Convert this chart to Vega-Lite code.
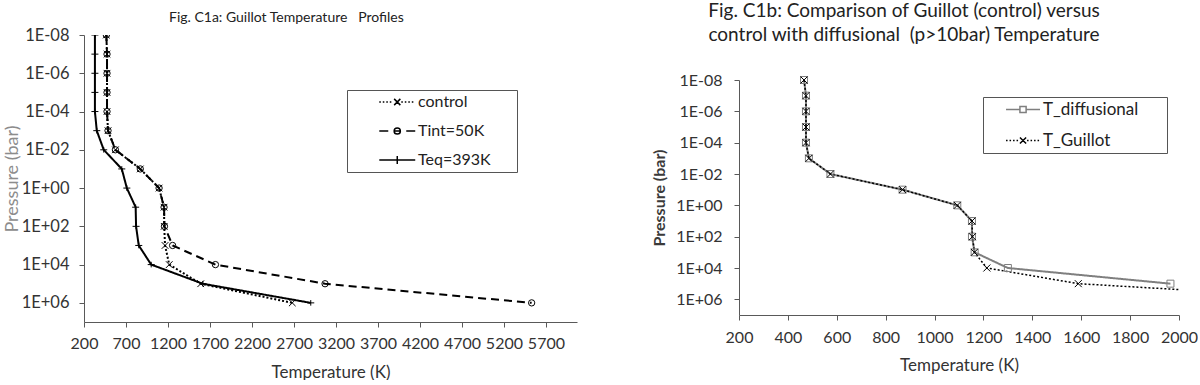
{
  "$schema": "https://vega.github.io/schema/vega-lite/v6.json",
  "background": "white",
  "padding": {"left": 3, "top": 2, "right": 0, "bottom": 0},
  "spacing": 74,
  "resolve": {
    "scale": {"x": "independent", "y": "independent", "color": "independent", "shape": "independent", "strokeDash": "independent", "strokeWidth": "independent", "size": "independent"},
    "legend": {"shape": "independent", "color": "independent"}
  },
  "config": {
    "font": "Lato",
    "view": {"stroke": null},
    "axis": {
      "grid": false,
      "domainColor": "#595959",
      "tickColor": "#595959",
      "tickSize": 5,
      "labelColor": "#333333",
      "labelFont": "Lato",
      "labelFontSize": 16,
      "labelOverlap": false,
      "labelFlush": false,
      "titleFont": "Lato",
      "titleFontSize": 17,
      "titleFontWeight": "normal",
      "titleColor": "#333333"
    }
  },
  "datasets": {
    "c1a": [
      {"series": "control", "P": 1e-8, "T": 466},
      {"series": "control", "P": 1e-7, "T": 474},
      {"series": "control", "P": 1e-6, "T": 474},
      {"series": "control", "P": 1e-5, "T": 474},
      {"series": "control", "P": 1e-4, "T": 474},
      {"series": "control", "P": 1e-3, "T": 486},
      {"series": "control", "P": 1e-2, "T": 574},
      {"series": "control", "P": 1e-1, "T": 870},
      {"series": "control", "P": 1, "T": 1094},
      {"series": "control", "P": 10, "T": 1153},
      {"series": "control", "P": 100, "T": 1155},
      {"series": "control", "P": 1000, "T": 1165},
      {"series": "control", "P": 10000, "T": 1215},
      {"series": "control", "P": 100000, "T": 1590},
      {"series": "control", "P": 1000000, "T": 2680},
      {"series": "Tint=50K", "P": 1e-8, "T": 466},
      {"series": "Tint=50K", "P": 1e-7, "T": 474},
      {"series": "Tint=50K", "P": 1e-6, "T": 474},
      {"series": "Tint=50K", "P": 1e-5, "T": 474},
      {"series": "Tint=50K", "P": 1e-4, "T": 474},
      {"series": "Tint=50K", "P": 1e-3, "T": 486},
      {"series": "Tint=50K", "P": 1e-2, "T": 574},
      {"series": "Tint=50K", "P": 1e-1, "T": 870},
      {"series": "Tint=50K", "P": 1, "T": 1094},
      {"series": "Tint=50K", "P": 10, "T": 1153},
      {"series": "Tint=50K", "P": 100, "T": 1158},
      {"series": "Tint=50K", "P": 1000, "T": 1255},
      {"series": "Tint=50K", "P": 10000, "T": 1765},
      {"series": "Tint=50K", "P": 100000, "T": 3070},
      {"series": "Tint=50K", "P": 1000000, "T": 5530},
      {"series": "Teq=393K", "P": 1e-8, "T": 330},
      {"series": "Teq=393K", "P": 1e-7, "T": 330},
      {"series": "Teq=393K", "P": 1e-6, "T": 330},
      {"series": "Teq=393K", "P": 1e-5, "T": 330},
      {"series": "Teq=393K", "P": 1e-4, "T": 330},
      {"series": "Teq=393K", "P": 1e-3, "T": 352},
      {"series": "Teq=393K", "P": 1e-2, "T": 435},
      {"series": "Teq=393K", "P": 1e-1, "T": 650},
      {"series": "Teq=393K", "P": 1, "T": 710},
      {"series": "Teq=393K", "P": 10, "T": 815},
      {"series": "Teq=393K", "P": 100, "T": 820},
      {"series": "Teq=393K", "P": 1000, "T": 852},
      {"series": "Teq=393K", "P": 10000, "T": 1000},
      {"series": "Teq=393K", "P": 100000, "T": 1615},
      {"series": "Teq=393K", "P": 1000000, "T": 2900}
    ],
    "c1b": [
      {"series": "T_diffusional", "P": 1e-8, "T": 466},
      {"series": "T_diffusional", "P": 1e-7, "T": 474},
      {"series": "T_diffusional", "P": 1e-6, "T": 474},
      {"series": "T_diffusional", "P": 1e-5, "T": 474},
      {"series": "T_diffusional", "P": 1e-4, "T": 474},
      {"series": "T_diffusional", "P": 1e-3, "T": 486},
      {"series": "T_diffusional", "P": 1e-2, "T": 574},
      {"series": "T_diffusional", "P": 1e-1, "T": 869},
      {"series": "T_diffusional", "P": 1, "T": 1093},
      {"series": "T_diffusional", "P": 10, "T": 1153},
      {"series": "T_diffusional", "P": 100, "T": 1153},
      {"series": "T_diffusional", "P": 1000, "T": 1164},
      {"series": "T_diffusional", "P": 10000, "T": 1300},
      {"series": "T_diffusional", "P": 100000, "T": 1965},
      {"series": "T_Guillot", "P": 1e-8, "T": 466},
      {"series": "T_Guillot", "P": 1e-7, "T": 474},
      {"series": "T_Guillot", "P": 1e-6, "T": 474},
      {"series": "T_Guillot", "P": 1e-5, "T": 474},
      {"series": "T_Guillot", "P": 1e-4, "T": 474},
      {"series": "T_Guillot", "P": 1e-3, "T": 486},
      {"series": "T_Guillot", "P": 1e-2, "T": 574},
      {"series": "T_Guillot", "P": 1e-1, "T": 869},
      {"series": "T_Guillot", "P": 1, "T": 1093},
      {"series": "T_Guillot", "P": 10, "T": 1153},
      {"series": "T_Guillot", "P": 100, "T": 1155},
      {"series": "T_Guillot", "P": 1000, "T": 1163},
      {"series": "T_Guillot", "P": 10000, "T": 1214},
      {"series": "T_Guillot", "P": 100000, "T": 1588},
      {"series": "T_Guillot", "P": 1000000, "T": 2680}
    ]
  },
  "hconcat": [
    {
      "width": 493,
      "height": 287,
      "title": {
        "text": "Fig. C1a: Guillot Temperature\u00a0\u00a0 Profiles",
        "fontSize": 14,
        "fontWeight": "normal",
        "font": "Lato",
        "color": "#222222",
        "anchor": "start",
        "frame": "group",
        "dx": 85,
        "dy": 9,
        "offset": 11
      },
      "data": {"name": "c1a"},
      "resolve": {"scale": {"shape": "independent", "size": "independent"}},
      "layer": [
        {
          "mark": {"type": "line", "clip": true, "color": "black"},
          "encoding": {
            "x": {"field": "T", "type": "quantitative", "scale": {"domain": [200, 6070], "nice": false, "zero": false},
                  "axis": {"values": [200, 700, 1200, 1700, 2200, 2700, 3200, 3700, 4200, 4700, 5200, 5700], "title": "Temperature (K)", "labelPadding": 8, "titlePadding": 13, "format": "d"}},
            "y": {"field": "P", "type": "quantitative", "scale": {"type": "log", "domain": [1e-8, 1e7], "reverse": true, "nice": false},
                  "axis": {"values": [1e-8, 1e-6, 1e-4, 1e-2, 1, 100, 10000, 1000000], "title": "Pressure (bar)", "titleColor": "#8c8c8c", "titleFontSize": 18, "labelFontSize": 16.5, "labelPadding": 10, "titlePadding": 0,
                           "labelExpr": "'1E' + (round(log(datum.value)/LN10) < 0 ? '-' : '+') + (abs(round(log(datum.value)/LN10)) < 10 ? '0' : '') + abs(round(log(datum.value)/LN10))"}},
            "order": {"field": "P", "type": "quantitative"},
            "strokeDash": {"field": "series", "type": "nominal", "scale": {"domain": ["Teq=393K", "control", "Tint=50K"], "range": [[1, 0], [2, 2], [8, 5]]}, "legend": null},
            "strokeWidth": {"field": "series", "type": "nominal", "scale": {"domain": ["Teq=393K", "Tint=50K", "control"], "range": [2, 2, 1.5]}, "legend": null}
          }
        },
        {
          "mark": {"type": "point", "clip": true, "filled": false, "color": "black", "strokeWidth": 1, "opacity": 1},
          "encoding": {
            "x": {"field": "T", "type": "quantitative"},
            "y": {"field": "P", "type": "quantitative"},
            "size": {"field": "series", "type": "nominal", "scale": {"domain": ["Tint=50K", "control", "Teq=393K"], "range": [40, 49, 81]}, "legend": null},
            "shape": {"field": "series", "type": "nominal", "scale": {"domain": ["Tint=50K", "Teq=393K", "control"], "range": ["circle", "M-1,0H1M0,-0.8V0.8", "M-1,-1L1,1M-1,1L1,-1"]}, "legend": null}
          }
        },
        {
          "mark": {"type": "point", "clip": true, "filled": false, "color": "black", "strokeWidth": 1.5, "opacity": 0, "size": 3844},
          "encoding": {
            "x": {"field": "T", "type": "quantitative"},
            "y": {"field": "P", "type": "quantitative"},
            "shape": {
              "field": "series", "type": "nominal",
              "scale": {"domain": ["control", "Tint=50K", "Teq=393K"], "range": [
                "M-0.12,0h0.05M-0.007,0h0.05M0.106,0h0.05M0.219,0h0.05M0.59,0h0.05M0.703,0h0.05M0.816,0h0.05M0.929,0h0.05M0.36,-0.1L0.56,0.1M0.36,0.1L0.56,-0.1",
                "M-0.12,0H0.17M0.36,0H0.56M0.56,0A0.1,0.1 0 1,1 0.36,0A0.1,0.1 0 1,1 0.56,0M0.75,0H1.04",
                "M-0.12,0H1.04M0.46,-0.13V0.13"]},
              "legend": {
                "title": "\u00a0",
                "titleOrient": "right",
                "titlePadding": 22,
                "orient": "none",
                "legendX": 263,
                "legendY": 55,
                "strokeColor": "#555555",
                "fillColor": "white",
                "padding": 4,
                "rowPadding": 13,
                "clipHeight": 16,
                "symbolSize": 3844,
                "symbolStrokeWidth": 1.5,
                "symbolOpacity": 1,
                "symbolStrokeColor": "black",
                "symbolFillColor": "transparent",
                "labelFont": "Lato",
                "labelFontSize": 16,
                "labelColor": "#222222",
                "labelOffset": 3
              }
            }
          }
        }
      ]
    },
    {
      "width": 440,
      "height": 280,
      "title": {
        "text": ["Fig. C1b: Comparison of Guillot (control) versus", "control with diffusional\u00a0 (p>10bar) Temperature"],
        "fontSize": 19,
        "fontWeight": "normal",
        "font": "Lato",
        "color": "#222222",
        "anchor": "middle",
        "frame": "group",
        "dx": -55,
        "lineHeight": 24,
        "offset": -10
      },
      "data": {"name": "c1b"},
      "resolve": {"scale": {"shape": "independent", "color": "independent"}},
      "layer": [
        {
          "mark": {"type": "line", "clip": true},
          "encoding": {
            "x": {"field": "T", "type": "quantitative", "scale": {"domain": [200, 2000], "nice": false, "zero": false},
                  "axis": {"values": [200, 400, 600, 800, 1000, 1200, 1400, 1600, 1800, 2000], "title": "Temperature (K)", "labelPadding": 9, "titlePadding": 12, "format": "d"}},
            "y": {"field": "P", "type": "quantitative", "scale": {"type": "log", "domain": [1e-8, 1e7], "range": [45, 280], "nice": false},
                  "axis": {"values": [1e-8, 1e-6, 1e-4, 1e-2, 1, 100, 10000, 1000000], "title": "Pressure (bar)", "titleColor": "#3a3a3a", "titleFontWeight": "bold", "titleFontSize": 16, "labelPadding": 12, "titlePadding": 8,
                           "labelExpr": "'1E' + (round(log(datum.value)/LN10) < 0 ? '-' : '+') + (abs(round(log(datum.value)/LN10)) < 10 ? '0' : '') + abs(round(log(datum.value)/LN10))"}},
            "order": {"field": "P", "type": "quantitative"},
            "color": {"field": "series", "type": "nominal", "scale": {"domain": ["T_Guillot", "T_diffusional"], "range": ["#000000", "#7f7f7f"]}, "legend": null},
            "strokeDash": {"field": "series", "type": "nominal", "scale": {"domain": ["T_Guillot", "T_diffusional"], "range": [[2, 2], [1, 0]]}, "legend": null},
            "strokeWidth": {"field": "series", "type": "nominal", "scale": {"domain": ["T_Guillot", "T_diffusional"], "range": [1.5, 2]}, "legend": null}
          }
        },
        {
          "mark": {"type": "point", "clip": true, "filled": false, "strokeWidth": 1, "opacity": 1, "size": 49},
          "encoding": {
            "x": {"field": "T", "type": "quantitative"},
            "y": {"field": "P", "type": "quantitative"},
            "color": {"field": "series", "type": "nominal", "scale": {"domain": ["T_Guillot", "T_diffusional"], "range": ["#000000", "#7f7f7f"]}, "legend": null},
            "shape": {"field": "series", "type": "nominal", "scale": {"domain": ["T_Guillot", "T_diffusional"], "range": ["M-1,-1L1,1M-1,1L1,-1", "square"]}, "legend": null}
          }
        },
        {
          "mark": {"type": "point", "clip": true, "filled": false, "strokeWidth": 1.5, "opacity": 0, "size": 2652},
          "encoding": {
            "x": {"field": "T", "type": "quantitative"},
            "y": {"field": "P", "type": "quantitative"},
            "color": {
              "field": "series", "type": "nominal",
              "scale": {"domain": ["T_diffusional", "T_Guillot"], "range": ["#7f7f7f", "#000000"]},
              "legend": {
                "title": "\u00a0",
                "titleOrient": "right",
                "titlePadding": 25,
                "orient": "none",
                "legendX": 244,
                "legendY": 62,
                "strokeColor": "#555555",
                "fillColor": "white",
                "padding": 4,
                "rowPadding": 13,
                "clipHeight": 17,
                "symbolSize": 2652,
                "symbolStrokeWidth": 1.5,
                "symbolOpacity": 1,
                "symbolFillColor": "transparent",
                "labelFont": "Lato",
                "labelFontSize": 17,
                "labelColor": "#222222",
                "labelOffset": 3
              }
            },
            "shape": {
              "field": "series", "type": "nominal",
              "scale": {"domain": ["T_diffusional", "T_Guillot"], "range": [
                "M-0.29,0H0.25M0.49,0H1.03M0.25,-0.117H0.49V0.117H0.25Z",
                "M-0.29,0h0.06M-0.154,0h0.06M-0.018,0h0.06M0.118,0h0.06M0.526,0h0.06M0.662,0h0.06M0.798,0h0.06M0.934,0h0.06M0.25,-0.117L0.49,0.117M0.25,0.117L0.49,-0.117"]},
              "legend": {
                "title": "\u00a0",
                "titleOrient": "right",
                "titlePadding": 25,
                "orient": "none",
                "legendX": 244,
                "legendY": 62,
                "strokeColor": "#555555",
                "fillColor": "white",
                "padding": 4,
                "rowPadding": 13,
                "clipHeight": 17,
                "symbolSize": 2652,
                "symbolStrokeWidth": 1.5,
                "symbolOpacity": 1,
                "symbolFillColor": "transparent",
                "labelFont": "Lato",
                "labelFontSize": 17,
                "labelColor": "#222222",
                "labelOffset": 3
              }
            }
          }
        }
      ]
    }
  ]
}
